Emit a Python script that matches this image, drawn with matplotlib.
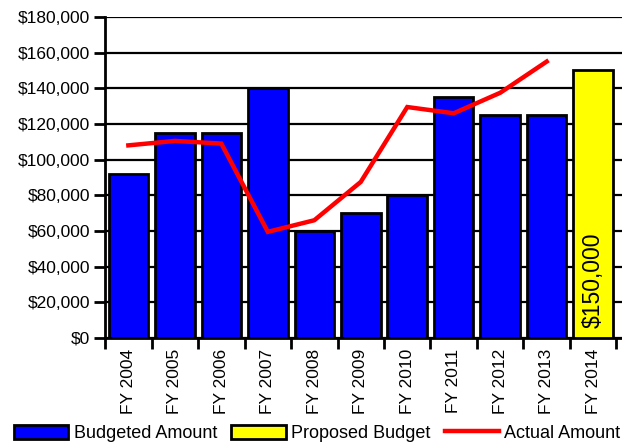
import matplotlib
matplotlib.use('Agg')
import matplotlib.pyplot as plt
from matplotlib.patches import Patch
from matplotlib.lines import Line2D
from matplotlib.ticker import FuncFormatter

plt.rcParams['font.family'] = ['Liberation Sans', 'DejaVu Sans']

# data
years = ['FY 2004', 'FY 2005', 'FY 2006', 'FY 2007', 'FY 2008', 'FY 2009',
         'FY 2010', 'FY 2011', 'FY 2012', 'FY 2013', 'FY 2014']
budgeted = [92000, 115000, 115000, 140000, 60000, 70000, 80000, 135000, 125000, 125000]
proposed = 150000
actual = [108000, 110500, 109000, 59500, 66000, 87500, 129500, 126000, 137500, 155000]
yticks = [0, 20000, 40000, 60000, 80000, 100000, 120000, 140000, 160000, 180000]

fig = plt.figure(figsize=(6.22, 4.47), dpi=100)
ax = fig.add_axes([0.169, 0.244, 0.831, 0.718])

x = list(range(len(years)))
ax.bar(x[:len(budgeted)], budgeted, width=0.85, color='#0000FF', edgecolor='black', linewidth=2, zorder=3)
ax.bar(x[-1], proposed, width=0.85, color='#FFFF00', edgecolor='black', linewidth=2, zorder=3)
ax.plot(x[:len(actual)], actual, color='#FF0000', linewidth=3.2, zorder=4, solid_joinstyle='miter')

ax.text(x[-1], 5500, '$150,000', rotation=90, ha='center', va='bottom', fontsize=16.5, zorder=5)

ax.set_ylim(0, 180000)
ax.set_xlim(-0.5, 10.62)
ax.set_yticks(yticks)
ax.yaxis.set_major_formatter(FuncFormatter(lambda v, p: '${:,.0f}'.format(v)))
ax.yaxis.grid(True, color='black', linewidth=1.6, zorder=0)
ax.set_axisbelow(True)

ax.set_xticks([i - 0.5 for i in range(len(years) + 1)])
ax.set_xticklabels([])
ax.set_xticks(x, minor=True)
ax.set_xticklabels(years, minor=True, rotation=90, fontsize=12.5)
ax.tick_params(axis='x', which='minor', length=0, pad=8)
ax.tick_params(axis='x', which='major', length=8, width=2)
ax.tick_params(axis='y', length=8, width=2, labelsize=12.5, pad=3)

for s in ['top', 'right']:
    ax.spines[s].set_visible(False)
for s in ['left', 'bottom']:
    ax.spines[s].set_linewidth(2)

handles = [Patch(facecolor='#0000FF', edgecolor='black', linewidth=2),
           Patch(facecolor='#FFFF00', edgecolor='black', linewidth=2),
           Line2D([0], [0], color='#FF0000', linewidth=3.2)]
fig.legend(handles, ['Budgeted Amount', 'Proposed Budget', 'Actual Amount'],
           loc='lower center', bbox_to_anchor=(0.51, -0.025), ncol=3, frameon=False,
           fontsize=13, handlelength=3.0, handleheight=0.8, handletextpad=0.3,
           columnspacing=0.8)

fig.savefig('out.png', dpi=100)
